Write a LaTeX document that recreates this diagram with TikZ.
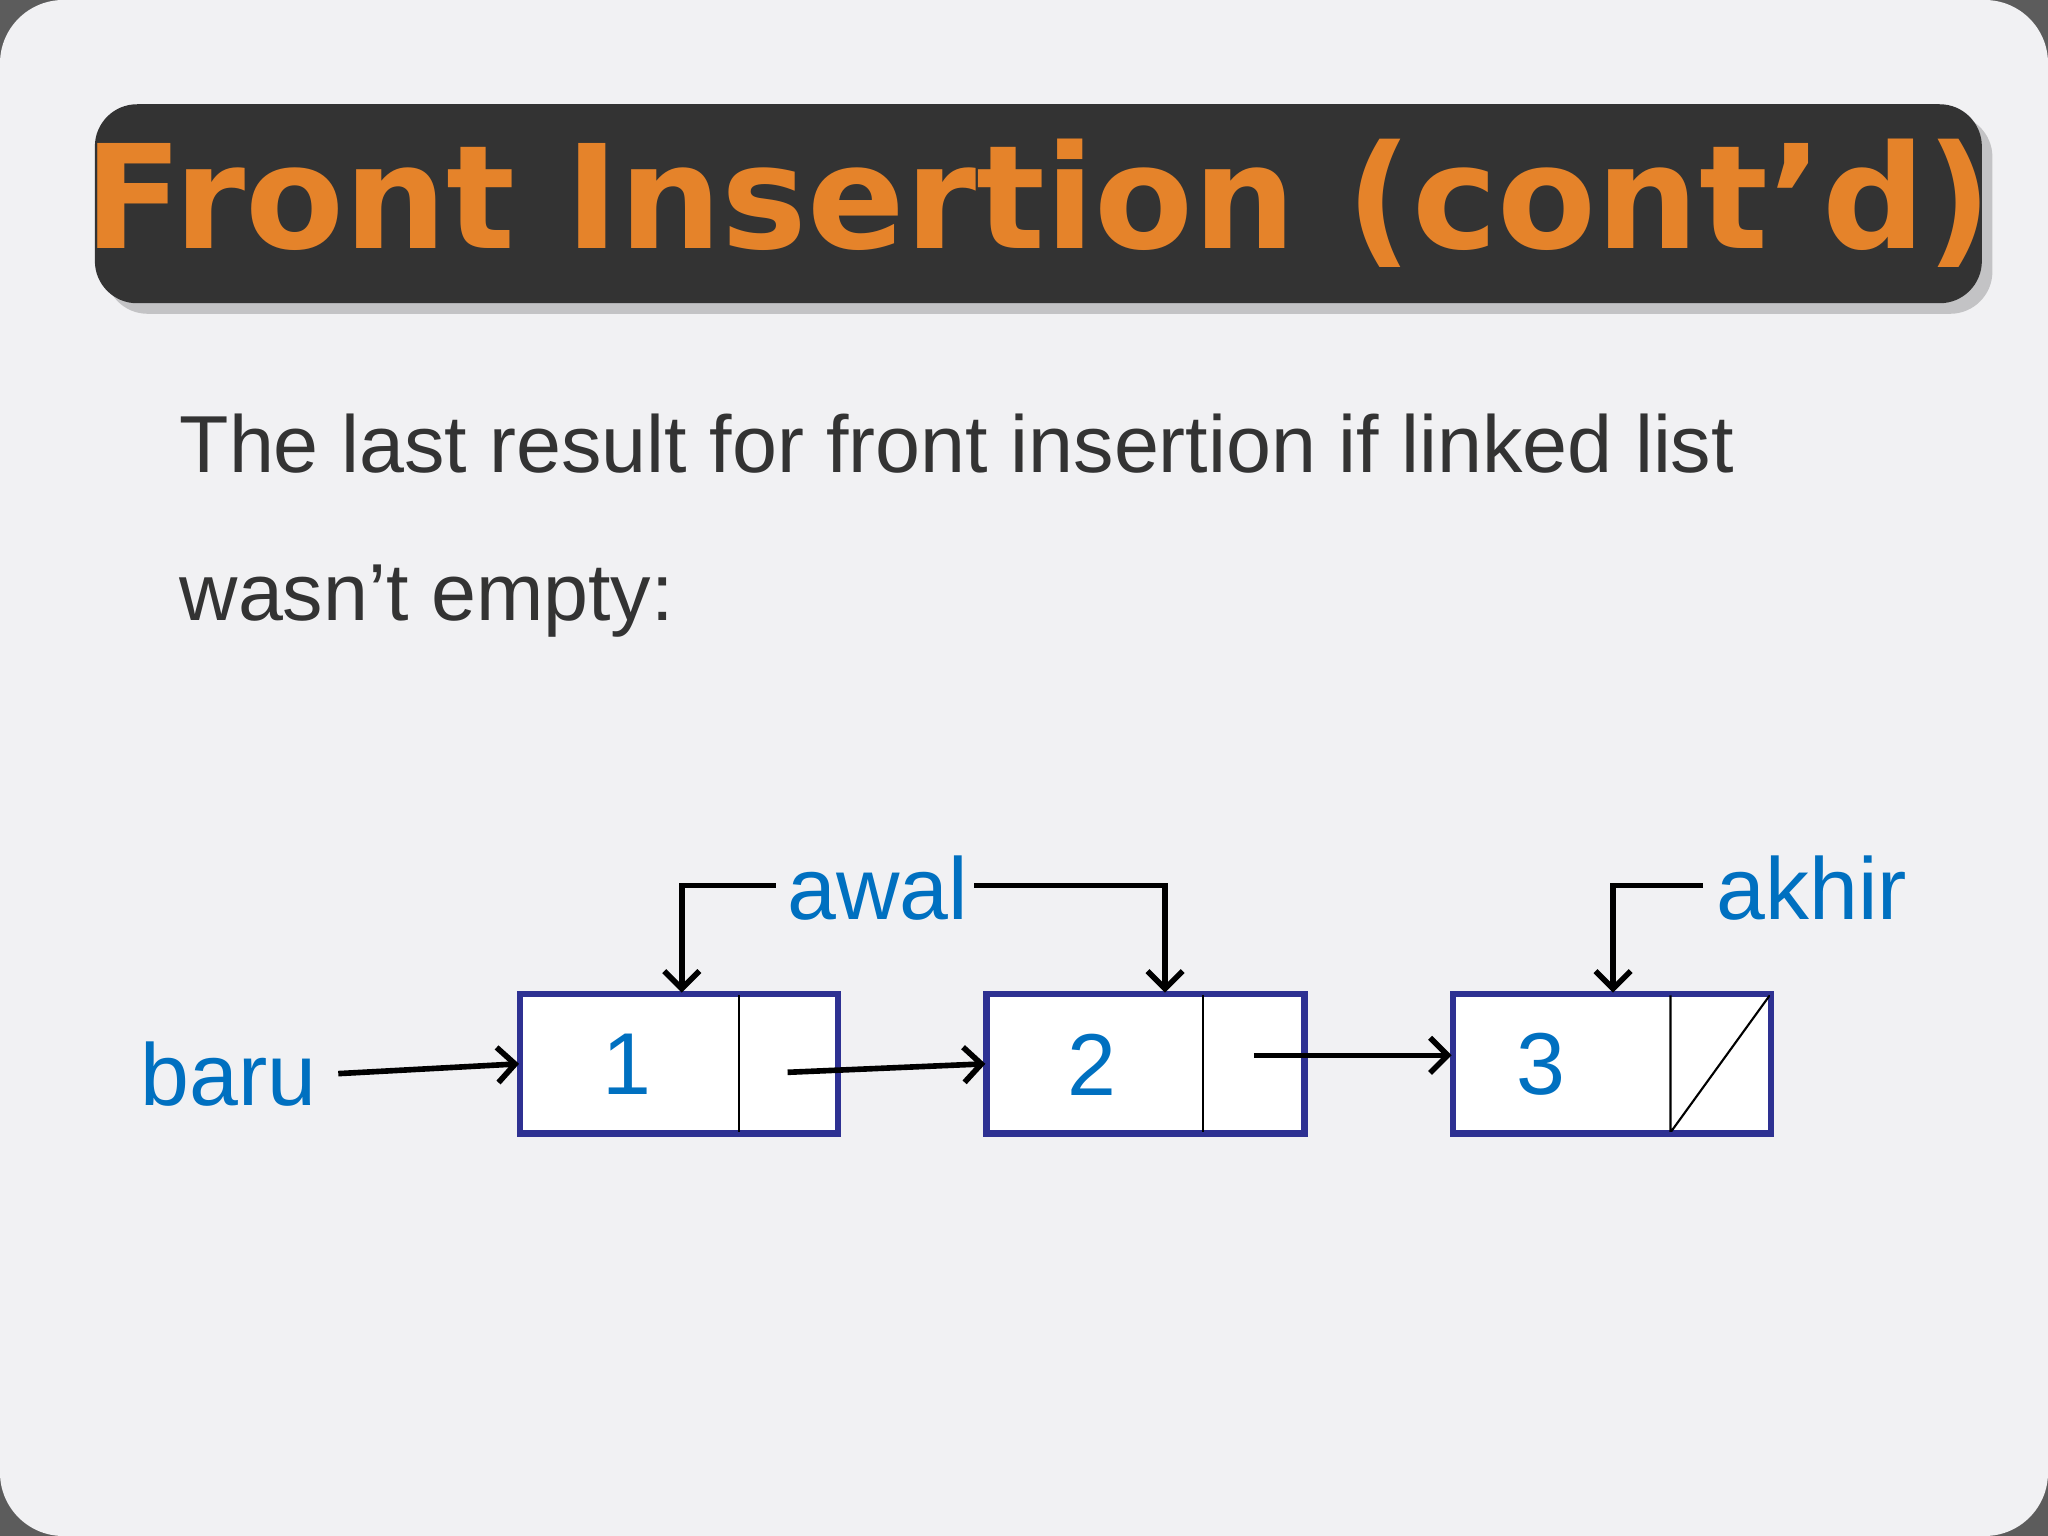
\documentclass[tikz,border=0pt]{standalone}
\usepackage{fontspec}
\setmainfont{Liberation Sans}
\newfontfamily\titlefont{DejaVu Sans}
\usetikzlibrary{arrows.meta,shadows}
\definecolor{slidebg}{HTML}{F1F1F3}
\definecolor{bardark}{HTML}{333333}
\definecolor{titleorange}{HTML}{E5832A}
\definecolor{listblue}{HTML}{0070C0}
\definecolor{boxnavy}{HTML}{2E3192}
\tikzset{>={Straight Barb[length=5pt,width=10pt]}}
\tikzstyle{cell}=[draw=boxnavy,line width=1.2pt,fill=white,minimum width=3.16cm,minimum height=1.37cm,inner sep=0pt]
\tikzstyle{ptr}=[->,line width=1.6pt]
\tikzstyle{lbl}=[listblue,font=\fontsize{25}{28}\selectfont,inner sep=0pt]
\begin{document}
\begin{tikzpicture}[x=0.01306cm,y=-0.01306cm]
  \useasboundingbox (0,0) rectangle (1568,1176);
  \fill[bardark!80] (0,0) rectangle (1568,1176);
  \fill[slidebg,rounded corners=18] (0,0) rectangle (1568,1176);

  % TITLE
  \node[fill=bardark,rounded corners=12,minimum width=18.87cm,minimum height=1.99cm,
        drop shadow={shadow xshift=3pt,shadow yshift=-3pt,opacity=0.4}] (title) at (795,156) {};
  \node[titleorange,font=\titlefont\bfseries\fontsize{41}{44}\selectfont] at (title) {Front Insertion (cont’d)};

  % TEXT
  \node[anchor=base west,bardark,font=\fontsize{23}{26}\selectfont,inner sep=0pt] (line1) at (137,362)
      {The last result for front insertion if linked list};
  \node[anchor=base west,bardark,font=\fontsize{23}{26}\selectfont,inner sep=0pt] (line2) at (137,475)
      {wasn’t empty:};

  % NODES
  \node[cell] (n1) at (520,814.5) {};
  \node[cell] (n2) at (877,814.5) {};
  \node[cell] (n3) at (1234,814.5) {};
  \draw[line width=0.6pt] (566,762) -- (566,867);
  \draw[line width=0.6pt] (921,762) -- (921,867);
  \draw[line width=0.6pt] (1279,762) -- (1279,867) -- (1355,762);
  \draw[boxnavy,line width=1.2pt] (n1.south west) rectangle (n1.north east);
  \draw[boxnavy,line width=1.2pt] (n2.south west) rectangle (n2.north east);
  \draw[boxnavy,line width=1.2pt] (n3.south west) rectangle (n3.north east);
  \node[lbl] at (480,815) {1};
  \node[lbl] at (836,815) {2};
  \node[lbl] at (1180,815) {3};

  % POINTERS
  \node[lbl,anchor=east] (baru) at (243,822) {baru};
  \node[lbl] (awal) at (672,680) {awal};
  \node[lbl] (akhir) at (1387,680) {akhir};
  \coordinate (p1) at (603,821);
  \coordinate (p2) at (960,808);
  \draw[ptr] (baru.east) ++(16,0) -- (n1.west);
  \draw[ptr] (p1) -- (n2.west);
  \draw[ptr] (p2) -- (n3.west |- p2);
  \draw[ptr] (594,678) -| (522,760);
  \draw[ptr] (746,678) -| (892,760);
  \draw[ptr] (1304,678) -| (1235,760);
\end{tikzpicture}
\end{document}
